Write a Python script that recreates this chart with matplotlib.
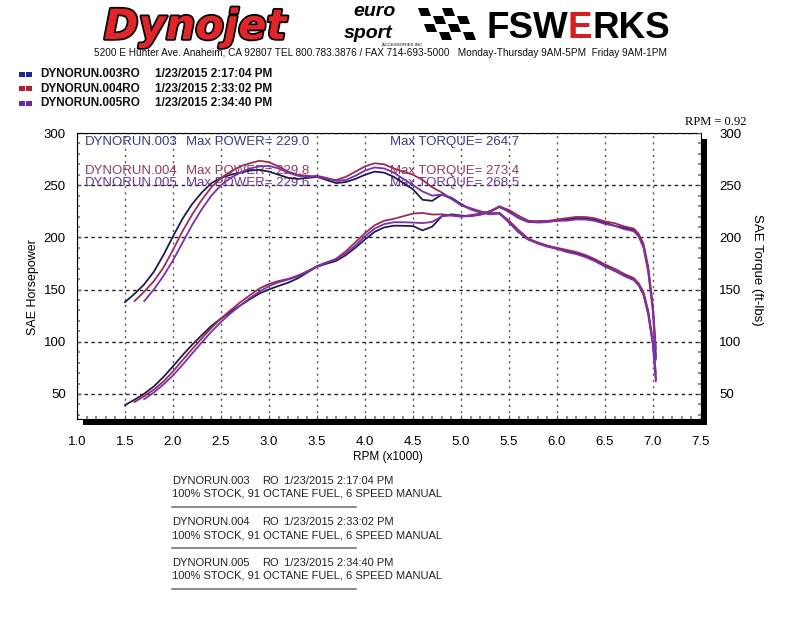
import matplotlib

matplotlib.use("Agg")
import matplotlib.pyplot as plt
import matplotlib.patheffects as pe
import numpy as np
from matplotlib.lines import Line2D
from matplotlib.patches import Polygon, Rectangle
from matplotlib.ticker import MultipleLocator

plt.rcParams["font.family"] = ["Liberation Sans", "DejaVu Sans"]

nan = np.nan

# engine speed in thousands of rpm, shared by the three runs
rpm = [1.5, 1.6, 1.7, 1.8, 1.9, 2.0, 2.1, 2.2, 2.3, 2.4,
       2.5, 2.6, 2.7, 2.8, 2.9, 3.0, 3.1, 3.2, 3.3, 3.4,
       3.5, 3.6, 3.7, 3.8, 3.9, 4.0, 4.1, 4.2, 4.3, 4.4,
       4.5, 4.6, 4.7, 4.8, 4.9, 5.0, 5.1, 5.2, 5.3, 5.4,
       5.5, 5.6, 5.7, 5.8, 5.9, 6.0, 6.1, 6.2, 6.3, 6.4,
       6.5, 6.6, 6.7, 6.8, 6.85, 6.9, 6.95, 7.0, 7.03]

torque_003 = [138, 146, 155, 167, 183, 201, 218, 232, 243, 252,
              257, 260, 262, 264, 264.7, 263, 260, 257, 256, 257,
              258, 255, 252, 253, 256, 260, 263, 262, 258, 252,
              246, 236, 235, 241, 238, 232, 227, 224, 223, 222.7,
              215, 205, 198, 195, 192, 189, 187, 185, 182, 178,
              173, 168, 164, 160, 155, 146, 128, 98, 64]
power_003 = [39.4, 44.5, 50.2, 57.2, 66.2, 76.5, 87.2, 97.2, 106.4, 115.2,
             122.3, 128.7, 134.7, 140.7, 146.2, 150.2, 153.5, 156.6, 160.8, 166.4,
             171.9, 174.8, 177.5, 183.0, 190.1, 198.0, 205.3, 209.5, 211.2, 211.1,
             210.8, 206.7, 210.3, 220.3, 222.1, 220.9, 220.4, 221.8, 225.0, 229.0,
             225.1, 218.6, 214.9, 215.3, 215.7, 215.9, 217.2, 218.4, 218.3, 216.9,
             214.1, 211.1, 209.2, 207.2, 202.2, 191.8, 169.4, 130.6, 85.7]

torque_004 = [nan, 139, 148, 158, 171, 188, 206, 222, 236, 248,
              257, 263, 268, 271, 273.4, 272, 268, 263, 260, 259,
              258, 256, 255, 258, 263, 268, 271, 270, 266, 263,
              260, 255, 248, 243, 237, 231, 228, 225, 223, 223.5,
              216, 207, 199, 195, 192, 190, 188, 186, 183, 179,
              174, 170, 165, 161, 156, 148, 130, 100, 70]
power_004 = [nan, 42.3, 47.9, 54.1, 61.9, 71.6, 82.4, 93.0, 103.3, 113.3,
             122.3, 130.2, 137.8, 144.5, 151.0, 155.4, 158.2, 160.2, 163.4, 167.7,
             171.9, 175.5, 179.6, 186.7, 195.3, 204.1, 211.6, 215.9, 217.8, 220.3,
             222.8, 223.4, 221.9, 222.1, 221.1, 219.9, 221.4, 222.8, 225.0, 229.8,
             226.2, 220.7, 216.0, 215.3, 215.7, 217.1, 218.4, 219.6, 219.5, 218.1,
             215.3, 213.6, 210.5, 208.4, 203.5, 194.4, 172.0, 133.3, 93.7]

torque_005 = [nan, nan, 139, 150, 163, 178, 195, 212, 227, 240,
              250, 257, 262, 266, 268, 268.5, 266, 262, 259, 258,
              259, 257, 254, 255, 259, 264, 267, 266, 262, 256,
              250, 244, 240, 241, 237, 231, 227, 224, 222, 223.3,
              214, 205, 198, 194, 191, 189, 186, 184, 181, 177,
              172, 168, 163, 159, 154, 145, 126, 96, 62]
power_005 = [nan, nan, 45.0, 51.4, 59.0, 67.8, 78.0, 88.8, 99.4, 109.7,
             119.0, 127.2, 134.7, 141.8, 148.0, 153.4, 157.0, 159.6, 162.7, 167.0,
             172.6, 176.2, 178.9, 184.5, 192.3, 201.1, 208.4, 212.7, 214.5, 214.5,
             214.2, 213.7, 214.8, 220.2, 221.1, 219.9, 220.4, 221.8, 224.0, 229.6,
             224.1, 218.6, 214.9, 214.2, 214.6, 215.9, 216.0, 217.2, 217.1, 215.7,
             212.9, 211.1, 207.9, 205.9, 200.9, 190.5, 166.7, 128.0, 83.0]

run_names = ["DYNORUN.003", "DYNORUN.004", "DYNORUN.005"]
run_times = ["1/23/2015 2:17:04 PM", "1/23/2015 2:33:02 PM", "1/23/2015 2:34:40 PM"]
max_power = ["229.0", "229.8", "229.6"]
max_torque = ["264.7", "273.4", "268.5"]
run_note = "100% STOCK, 91 OCTANE FUEL, 6 SPEED MANUAL"

line_colors = ["#1e1d4f", "#9a2d55", "#7a30b0"]
text_colors = ["#3a3a80", "#8e3c5e", "#6c3a94"]
legend_colors = ["#1c2a90", "#b0202c", "#6a2a9c"]

W, H = 800, 618


def fx(px):
    return px / W


def fy(py):
    return 1 - py / H


fig = plt.figure(figsize=(8, 6.18), dpi=100)

# drop shadow behind the plot frame
fig.add_artist(Rectangle((fx(83), fy(425)), (701 - 77) / W, (419 - 133) / H,
                         transform=fig.transFigure, facecolor="black",
                         edgecolor="none", zorder=-1))

ax = fig.add_axes([fx(77), fy(419), (701 - 77) / W, (419 - 133) / H])
ax.set_xlim(1.0, 7.5)
ax.set_ylim(26, 300)
ax.xaxis.set_major_locator(MultipleLocator(0.5))
ax.xaxis.set_minor_locator(MultipleLocator(0.1))
ax.set_yticks([50, 100, 150, 200, 250, 300])
ax.yaxis.set_minor_locator(MultipleLocator(10))
ax.xaxis.grid(True, linestyle=(0, (1.5, 3)), color="#555555", lw=1.0)
ax.yaxis.grid(True, linestyle=(0, (2.5, 2.5)), color="#222222", lw=1.0)
ax.tick_params(which="major", direction="in", length=3, width=0.8, color="#555555",
               labelsize=9.5)
ax.tick_params(which="minor", direction="in", length=2.5, width=1.2, color="#777777")
ax.tick_params(axis="x", pad=12)
ax.tick_params(axis="y", pad=8)
for s in ax.spines.values():
    s.set_linewidth(0.8)
    s.set_color("black")

ax2 = ax.twinx()
ax2.set_ylim(ax.get_ylim())
ax2.set_yticks([50, 100, 150, 200, 250, 300])
ax2.yaxis.set_minor_locator(MultipleLocator(10))
ax2.tick_params(which="major", direction="in", length=3, width=0.8, color="#555555",
                labelsize=9.5, pad=13)
ax2.tick_params(which="minor", direction="in", length=2.5, width=1.2, color="#777777")
for s in ax2.spines.values():
    s.set_visible(False)

torques = [torque_003, torque_004, torque_005]
powers = [power_003, power_004, power_005]
for tq, hp, c in zip(torques, powers, line_colors):
    ax.plot(rpm, tq, color=c, lw=1.3, zorder=3)
    ax.plot(rpm, hp, color=c, lw=1.3, zorder=3)

# run summary text inside the plot, under the curves
rows_y = [291, 263.5, 252]
for name, mp, mt, c, yv in zip(run_names, max_power, max_torque, text_colors, rows_y):
    ax.text(1.08, yv, name, color=c, fontsize=9.5, va="center", zorder=2)
    ax.text(2.14, yv, "Max POWER= " + mp, color=c, fontsize=9.5, va="center", zorder=2)
    ax.text(4.26, yv, "Max TORQUE= " + mt, color=c, fontsize=9.5, va="center", zorder=2)

fig.text(fx(33), fy(287), "SAE Horsepower", rotation=90, ha="center", va="center",
         fontsize=9)
fig.text(fx(757), fy(270), "SAE Torque (ft-lbs)", rotation=270, ha="center",
         va="center", fontsize=9.5)
fig.text(fx(388), fy(457), "RPM (x1000)", ha="center", va="center", fontsize=8.5)
fig.text(fx(716), fy(122), "RPM = 0.92", ha="center", va="center", fontsize=9,
         family="Liberation Serif")

# legend at the top left
for i, (name, t, c) in enumerate(zip(run_names, run_times, legend_colors)):
    yy = 74 + i * 14.5
    for x0 in (19, 26):
        fig.add_artist(Rectangle((fx(x0), fy(yy + 2.5)), 5.5 / W, 5 / H,
                                 transform=fig.transFigure, facecolor=c,
                                 edgecolor="none"))
    fig.text(fx(40), fy(yy), name + "RO", fontsize=8.5, fontweight="bold",
             va="center", color="#111111")
    fig.text(fx(155), fy(yy), t, fontsize=8.5, fontweight="bold", va="center",
             color="#111111")

# run notes under the chart
for i, (name, t) in enumerate(zip(run_names, run_times)):
    y0 = 481 + i * 41
    fig.text(fx(172), fy(y0), name, fontsize=8, va="center", color="#222222")
    fig.text(fx(262), fy(y0), "RO", fontsize=8, va="center", color="#222222")
    fig.text(fx(284), fy(y0), t, fontsize=8, va="center", color="#222222")
    fig.text(fx(172), fy(y0 + 13), run_note, fontsize=8, va="center", color="#222222")
    fig.add_artist(Line2D([fx(172), fx(356)], [fy(y0 + 26), fy(y0 + 26)],
                          color="#777777", lw=1.2))

# header logos and address
fig.text(fx(195), fy(27), "Dynojet", ha="center", va="center", fontsize=30,
         fontweight="heavy", style="italic", family="DejaVu Sans", color="#e0262a",
         path_effects=[pe.withStroke(linewidth=2.5, foreground="black")])
fig.text(fx(375), fy(11), "euro", ha="center", va="center", fontsize=14,
         style="italic", fontweight="bold", color="black")
fig.text(fx(368), fy(34), "sport", ha="center", va="center", fontsize=14,
         style="italic", fontweight="bold", color="black")
fig.text(fx(402), fy(44.5), "ACCESSORIES INC", ha="center", va="center", fontsize=3.2,
         color="black")
for r in range(4):
    for k in range(4):
        if (r + k) % 2 == 0:
            x0 = 418 + k * 12 + r * 3
            y0 = 8 + r * 8
            pts = [(fx(x0), fy(y0)), (fx(x0 + 10), fy(y0)),
                   (fx(x0 + 13), fy(y0 + 8)), (fx(x0 + 3), fy(y0 + 8))]
            fig.add_artist(Polygon(pts, closed=True, transform=fig.transFigure,
                                   facecolor="black", edgecolor="none"))

renderer = fig.canvas.get_renderer()
x_cursor = fx(486)
for part, c in (("FSW", "black"), ("E", "#d42020"), ("RKS", "black")):
    t = fig.text(x_cursor, fy(29), part, fontsize=26.5, fontweight="bold",
                 va="center", color=c)
    bb = t.get_window_extent(renderer)
    x_cursor = bb.x1 / fig.bbox.width

fig.text(fx(380), fy(53),
         "5200 E Hunter Ave. Anaheim, CA 92807 TEL 800.783.3876 / FAX 714-693-5000"
         "   Monday-Thursday 9AM-5PM  Friday 9AM-1PM",
         ha="center", va="center", fontsize=7.2, color="#111111")

fig.savefig("out.png", dpi=100)
